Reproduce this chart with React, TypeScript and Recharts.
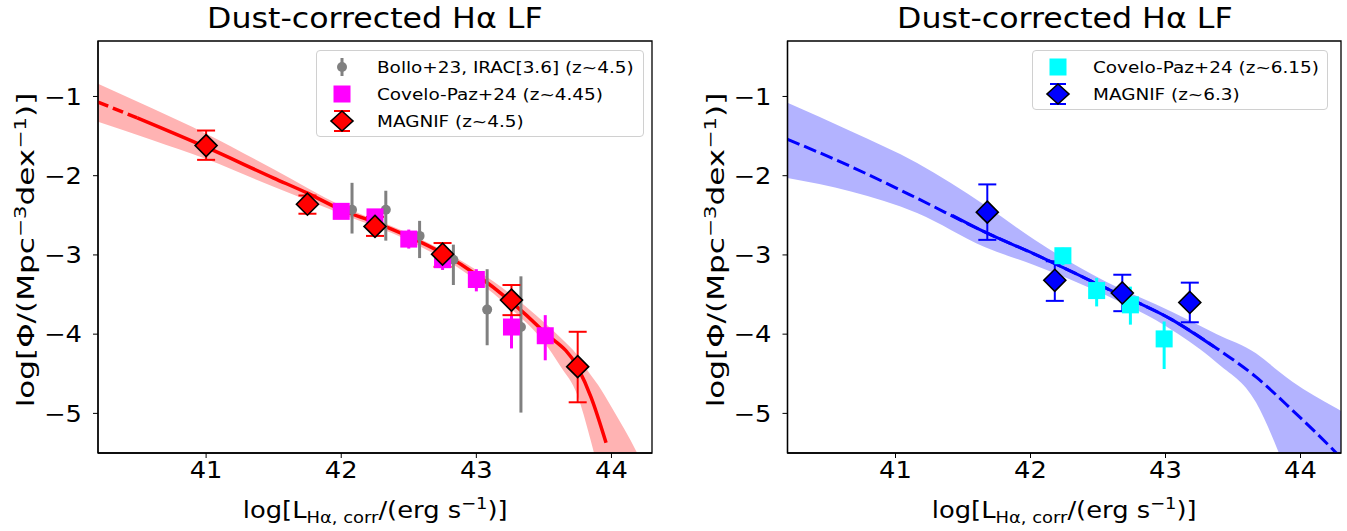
import React from "react";
import {
  ComposedChart,
  XAxis,
  YAxis,
  Line,
  Area,
  Scatter,
  ErrorBar,
  ReferenceArea,
} from "recharts";

const FONT = "'DejaVu Sans', sans-serif";
const SX = 1.12; // text in the figure is a little wider than tall
const X_DOMAIN: [number, number] = [40.2, 44.3];
const Y_DOMAIN: [number, number] = [-5.5, -0.3];
const X_TICKS = [41, 42, 43, 44];
const Y_TICKS = [-5, -4, -3, -2, -1];

// ---- left panel, z~4.5 ----
const bolloX = [42.08, 42.33, 42.58, 42.83, 43.08, 43.33];
const bolloY = [-2.43, -2.43, -2.76, -3.06, -3.69, -3.91];
const bolloErrDown = [0.3, 0.39, 0.28, 0.32, 0.45, 1.08];
const bolloErrUp = [0.34, 0.24, 0.19, 0.19, 0.51, 0.64];

const coveloLX = [42.0, 42.25, 42.5, 42.75, 43.0, 43.26, 43.51];
const coveloLY = [-2.45, -2.52, -2.8, -3.06, -3.31, -3.91, -4.02];
const coveloLErrDown = [0.08, 0.08, 0.12, 0.13, 0.15, 0.27, 0.31];
const coveloLErrUp = [0.08, 0.08, 0.12, 0.12, 0.13, 0.15, 0.26];

const magnifLX = [41.0, 41.75, 42.25, 42.75, 43.26, 43.75];
const magnifLY = [-1.62, -2.36, -2.64, -2.99, -3.57, -4.41];
const magnifLErrDown = [0.18, 0.12, 0.12, 0.16, 0.19, 0.45];
const magnifLErrUp = [0.19, 0.11, 0.12, 0.14, 0.19, 0.44];

const fitLDashX = [40.2, 40.49];
const fitLDashY = [-1.07, -1.27];
const fitLX = [40.49, 41.0, 41.5, 41.75, 42.0, 42.25, 42.5, 42.75, 43.0, 43.25, 43.5, 43.75, 43.85, 43.96];
const fitLY = [-1.27, -1.64, -2.03, -2.22, -2.43, -2.59, -2.77, -2.98, -3.25, -3.58, -3.97, -4.42, -4.8, -5.37];

const bandLX = [40.2, 40.6, 41.0, 41.5, 42.0, 42.5, 43.0, 43.25, 43.5, 43.62, 43.75, 43.84, 43.9, 44.0, 44.19, 44.3];
const bandLHi = [-0.84, -1.15, -1.47, -1.92, -2.38, -2.73, -3.19, -3.49, -3.85, -4.04, -4.27, -4.5, -4.64, -4.92, -5.5, -5.9];
const bandLLo = [-1.32, -1.55, -1.79, -2.14, -2.48, -2.82, -3.32, -3.67, -4.1, -4.4, -4.78, -5.3, -5.7, -6.5, -8.2, -9.0];

// ---- right panel, z~6.3 ----
const coveloRX = [42.24, 42.49, 42.74, 42.99];
const coveloRY = [-3.01, -3.45, -3.63, -4.06];
const coveloRErrDown = [0.12, 0.2, 0.25, 0.38];
const coveloRErrUp = [0.1, 0.16, 0.23, 0.22];

const magnifRX = [41.68, 42.18, 42.68, 43.18];
const magnifRY = [-2.46, -3.32, -3.48, -3.6];
const magnifRErrDown = [0.35, 0.26, 0.23, 0.25];
const magnifRErrUp = [0.35, 0.24, 0.23, 0.25];

const fitRDashX = [40.2, 40.67, 41.16, 41.66, 42.03, 42.56, 43.05, 43.38, 43.67, 43.94, 44.26, 44.3];
const fitRDashY = [-1.54, -1.885, -2.285, -2.71, -2.99, -3.42, -3.82, -4.18, -4.54, -4.96, -5.49, -5.56];
const fitRX = [41.42, 41.66, 42.03, 42.56, 43.05, 43.36];
const fitRY = [-2.5, -2.71, -2.99, -3.42, -3.82, -4.16];

const bandRX = [40.2, 40.67, 41.16, 41.66, 42.03, 42.56, 43.05, 43.38, 43.67, 43.84, 43.94, 44.26, 44.3];
const bandRHi = [-1.08, -1.44, -1.84, -2.37, -2.81, -3.34, -3.72, -4.0, -4.24, -4.47, -4.6, -4.93, -4.97];
const bandRLo = [-2.03, -2.2, -2.47, -2.9, -3.13, -3.51, -3.95, -4.36, -4.86, -5.5, -5.95, -7.6, -7.8];

const pts = (xs: number[], ys: number[], down?: number[], up?: number[]) =>
  xs.map((x, i) => ({ x, y: ys[i], err: down && up ? [down[i], up[i]] : 0 }));
const band = (xs: number[], hi: number[], lo: number[]) =>
  xs.map((x, i) => ({ x, band: [lo[i], hi[i]] }));

const tickFmt = (v: number) => (v < 0 ? `\u2212${Math.abs(v)}` : `${v}`);

const XTick = (p: any) => (
  <text
    x={p.x}
    y={p.y}
    dy="0.71em"
    textAnchor="middle"
    fontSize={23}
    fontFamily={FONT}
    fill="#000"
    transform={`translate(${p.x},0) scale(${SX},1) translate(${-p.x},0)`}
  >
    {tickFmt(p.payload.value)}
  </text>
);
const YTick = (p: any) => (
  <text
    x={p.x}
    y={p.y}
    dy="0.355em"
    textAnchor="end"
    fontSize={23}
    fontFamily={FONT}
    fill="#000"
    transform={`translate(${p.x},0) scale(${SX},1) translate(${-p.x},0)`}
  >
    {tickFmt(p.payload.value)}
  </text>
);

const diamond = (fill: string) => (p: any) => {
  const { cx, cy } = p;
  const r = 11;
  return (
    <polygon
      points={`${cx},${cy - r} ${cx + r},${cy} ${cx},${cy + r} ${cx - r},${cy}`}
      fill={fill}
      stroke="#000"
      strokeWidth={1.6}
    />
  );
};
const square = (fill: string) => (p: any) => (
  <rect x={p.cx - 8.5} y={p.cy - 8.5} width={17} height={17} fill={fill} />
);
const dot = (fill: string) => (p: any) => <circle cx={p.cx} cy={p.cy} r={5} fill={fill} />;

const axes = () => [
  <XAxis
    key="x"
    dataKey="x"
    type="number"
    domain={X_DOMAIN}
    ticks={X_TICKS}
    allowDataOverflow
    height={60}
    tickSize={5}
    tickMargin={4}
    axisLine={{ stroke: "#000", strokeWidth: 1.3 }}
    tickLine={{ stroke: "#000", strokeWidth: 1 }}
    tick={XTick}
  />,
  <YAxis
    key="y"
    type="number"
    domain={Y_DOMAIN}
    ticks={Y_TICKS}
    allowDataOverflow
    width={60}
    tickSize={5}
    tickMargin={11}
    axisLine={{ stroke: "#000", strokeWidth: 1.3 }}
    tickLine={{ stroke: "#000", strokeWidth: 1 }}
    tick={YTick}
  />,
];

const frame = () => (
  <ReferenceArea
    x1={X_DOMAIN[0]}
    x2={X_DOMAIN[1]}
    y1={Y_DOMAIN[0]}
    y2={Y_DOMAIN[1]}
    fill="none"
    stroke="#000"
    strokeWidth={1.3}
  />
);

type Row = { label: string; marker: React.ReactNode };

const LegendBox = ({ left, top, width, rows }: { left: number; top: number; width: number; rows: Row[] }) => (
  <div
    style={{
      position: "absolute",
      left,
      top,
      width,
      height: rows.length * 27 + 6,
      border: "1px solid #d0d0d0",
      borderRadius: 4,
      background: "rgba(255,255,255,0.8)",
      boxSizing: "border-box",
    }}
  >
    {rows.map((r, i) => (
      <div key={i} style={{ position: "absolute", left: 10, top: 3 + i * 27, height: 26, display: "flex", alignItems: "center" }}>
        <svg width={30} height={26}>{r.marker}</svg>
        <span
          style={{
            marginLeft: 20,
            fontSize: 16,
            whiteSpace: "nowrap",
            display: "inline-block",
            transform: "scaleX(1.15)",
            transformOrigin: "left center",
          }}
        >
          {r.label}
        </span>
      </div>
    ))}
  </div>
);

const legDiamond = (fill: string, bar: string) => (
  <g>
    <line x1={15} y1={3} x2={15} y2={23} stroke={bar} strokeWidth={2} />
    <line x1={7} y1={3} x2={23} y2={3} stroke={bar} strokeWidth={2} />
    <line x1={7} y1={23} x2={23} y2={23} stroke={bar} strokeWidth={2} />
    <polygon points="15,3 26,13 15,23 4,13" fill={fill} stroke="#000" strokeWidth={1.6} />
  </g>
);

const Titles = ({ left }: { left: number }) => (
  <>
    <div style={{ position: "absolute", left, width: 554, top: 2, textAlign: "center" }}>
      <span style={{ display: "inline-block", fontSize: 27.5, transform: `scaleX(${SX + 0.03})` }}>
        Dust-corrected Hα LF
      </span>
    </div>
    <div style={{ position: "absolute", left, width: 554, top: 494, textAlign: "center" }}>
      <span style={{ display: "inline-block", fontSize: 23, transform: `scaleX(${SX})`, whiteSpace: "nowrap" }}>
        log[L<sub style={{ fontSize: 16 }}>Hα, corr</sub>/(erg s<sup style={{ fontSize: 16 }}>−1</sup>)]
      </span>
    </div>
    <div
      style={{
        position: "absolute",
        left: left - 73,
        top: 250,
        transform: "translate(-50%, -50%) rotate(-90deg) scaleX(1.35)",
        fontSize: 23,
        whiteSpace: "nowrap",
      }}
    >
      log[Φ/(Mpc<sup style={{ fontSize: 16 }}>−3</sup>dex<sup style={{ fontSize: 16 }}>−1</sup>)]
    </div>
  </>
);

export default function App() {
  return (
    <div style={{ position: "absolute", left: 0, top: 0, width: 1347, height: 531, background: "#fff", fontFamily: FONT, color: "#000" }}>
      <div style={{ position: "absolute", left: 0, top: 0 }}>
        <ComposedChart width={680} height={531} margin={{ top: 41, right: 28, bottom: 18, left: 38 }}>
          {axes()}
          <Area
            data={band(bandLX, bandLHi, bandLLo)}
            dataKey="band"
            type="monotone"
            fill="#ffb3b3"
            fillOpacity={1}
            stroke="none"
            isAnimationActive={false}
          />
          <Line data={pts(fitLDashX, fitLDashY)} dataKey="y" type="monotone" stroke="#ff0000" strokeWidth={3.5} strokeDasharray="11 5" dot={false} isAnimationActive={false} />
          <Line data={pts(fitLX, fitLY)} dataKey="y" type="monotone" stroke="#ff0000" strokeWidth={3.5} dot={false} isAnimationActive={false} />
          <Scatter data={pts(bolloX, bolloY, bolloErrDown, bolloErrUp)} dataKey="y" shape={dot("#808080")} isAnimationActive={false}>
            <ErrorBar dataKey="err" direction="y" width={0} stroke="#808080" strokeWidth={3} />
          </Scatter>
          <Scatter data={pts(coveloLX, coveloLY, coveloLErrDown, coveloLErrUp)} dataKey="y" shape={square("#ff00ff")} isAnimationActive={false}>
            <ErrorBar dataKey="err" direction="y" width={0} stroke="#ff00ff" strokeWidth={3} />
          </Scatter>
          <Scatter data={pts(magnifLX, magnifLY, magnifLErrDown, magnifLErrUp)} dataKey="y" shape={diamond("#ff0000")} isAnimationActive={false}>
            <ErrorBar dataKey="err" direction="y" width={9} stroke="#ff0000" strokeWidth={2} />
          </Scatter>
          {frame()}
        </ComposedChart>
      </div>
      <Titles left={98} />
      <LegendBox
        left={316}
        top={50}
        width={328}
        rows={[
          {
            label: "Bollo+23, IRAC[3.6] (z~4.5)",
            marker: (
              <g>
                <line x1={15} y1={4} x2={15} y2={22} stroke="#808080" strokeWidth={3} />
                <circle cx={15} cy={13} r={5} fill="#808080" />
              </g>
            ),
          },
          {
            label: "Covelo-Paz+24 (z~4.45)",
            marker: <rect x={6.5} y={4.5} width={17} height={17} fill="#ff00ff" />,
          },
          { label: "MAGNIF (z~4.5)", marker: legDiamond("#ff0000", "#ff0000") },
        ]}
      />

      <div style={{ position: "absolute", left: 690, top: 0 }}>
        <ComposedChart width={657} height={531} margin={{ top: 41, right: 6, bottom: 18, left: 37.5 }}>
          {axes()}
          <Area
            data={band(bandRX, bandRHi, bandRLo)}
            dataKey="band"
            type="monotone"
            fill="#b3b3ff"
            fillOpacity={1}
            stroke="none"
            isAnimationActive={false}
          />
          <Line data={pts(fitRDashX, fitRDashY)} dataKey="y" type="monotone" stroke="#0000ff" strokeWidth={3} strokeDasharray="13 5" dot={false} isAnimationActive={false} />
          <Line data={pts(fitRX, fitRY)} dataKey="y" type="monotone" stroke="#0000ff" strokeWidth={3} dot={false} isAnimationActive={false} />
          <Scatter data={pts(coveloRX, coveloRY, coveloRErrDown, coveloRErrUp)} dataKey="y" shape={square("#00ffff")} isAnimationActive={false}>
            <ErrorBar dataKey="err" direction="y" width={0} stroke="#00ffff" strokeWidth={3} />
          </Scatter>
          <Scatter data={pts(magnifRX, magnifRY, magnifRErrDown, magnifRErrUp)} dataKey="y" shape={diamond("#0000ff")} isAnimationActive={false}>
            <ErrorBar dataKey="err" direction="y" width={9} stroke="#0000ff" strokeWidth={2} />
          </Scatter>
          {frame()}
        </ComposedChart>
      </div>
      <Titles left={787.5} />
      <LegendBox
        left={1032}
        top={50}
        width={296}
        rows={[
          {
            label: "Covelo-Paz+24 (z~6.15)",
            marker: <rect x={6.5} y={4.5} width={17} height={17} fill="#00ffff" />,
          },
          { label: "MAGNIF (z~6.3)", marker: legDiamond("#0000ff", "#0000ff") },
        ]}
      />
    </div>
  );
}
